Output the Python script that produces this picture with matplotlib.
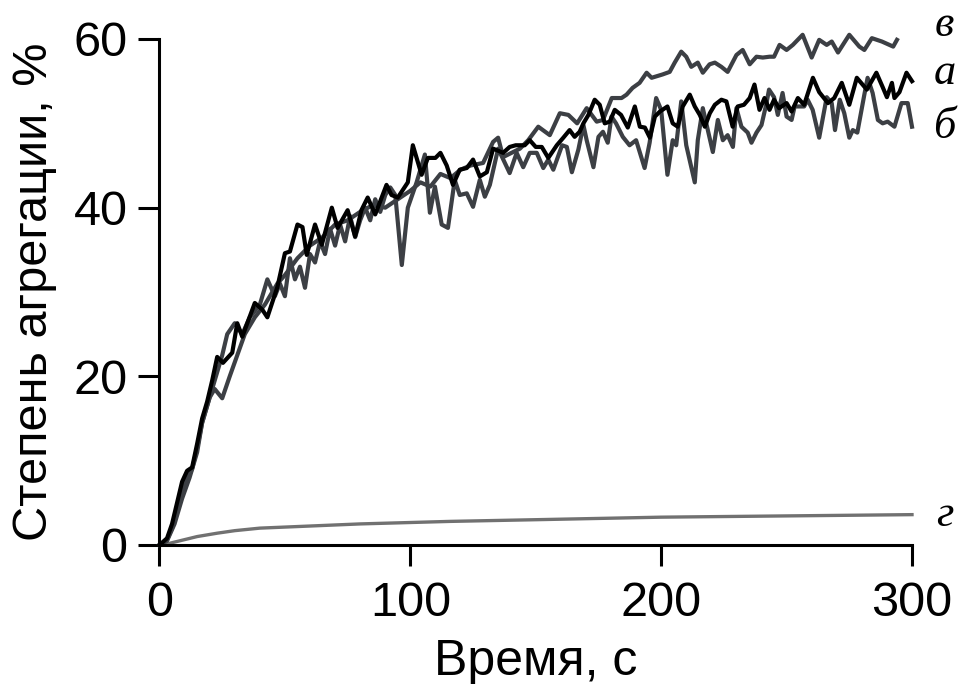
import matplotlib
matplotlib.use("Agg")
import matplotlib.pyplot as plt

# ---- data ----
t_a = [0, 3, 5, 7, 9, 11, 13, 15, 17, 19, 21, 23, 25.3, 29, 31, 33, 38, 41, 43, 47, 50, 52, 55, 57, 58.7,
       62, 64.7, 68.7, 71, 75, 78, 80.5, 83, 86, 90.5, 92.5, 95, 99, 101, 104.5, 107, 110, 112, 114.5, 117,
       119.7, 122.5, 125, 127.7, 130.5, 133, 137, 139.6, 142, 145.6, 147.6, 150, 152.4, 155, 158.4, 161,
       163.5, 165.5, 167.5, 169, 171, 173.5, 175.5, 177.5, 179.5, 181.5, 184, 186.7, 189.5, 191.5, 193.5,
       195.5, 197.5, 199.5, 202.5, 204.6, 206.6, 208.6, 211.4, 213.4, 215.4, 217.4, 219.4, 221.4, 224, 226,
       228.5, 230.5, 233, 235.3, 237.2, 239.2, 241.2, 243.2, 245, 247, 250, 252, 254.5, 257, 260.5, 263,
       266.5, 269, 272, 275, 278, 282, 285.8, 288.3, 290, 292, 293, 295, 297.8, 300]
a = [0, 0.8, 2.5, 5, 7.5, 8.8, 9.2, 12, 15, 17, 19.5, 22.3, 21.6, 22.8, 26.3, 24.7, 28.7, 27.9, 27, 30.6,
     34.6, 34.8, 38, 37.7, 34.4, 38, 35.6, 40, 37.6, 39.7, 36.6, 39.7, 41.2, 39.2, 42.7, 41.5, 41.2, 43,
     47.4, 43.9, 45.9, 45.9, 46.5, 45, 42.7, 44.5, 44.7, 45.7, 43.7, 44.2, 47, 46.5, 47.2, 47.4, 47.4, 48,
     47.2, 47.2, 45.9, 47.4, 48.3, 49.2, 48.4, 49, 50, 51, 52.8, 52.2, 50, 50.2, 51.6, 51, 49.5, 52, 49.6,
     49.5, 48.3, 50.8, 51.4, 52, 50, 49.6, 52, 53.4, 52, 51, 49.6, 51.2, 52.2, 52.8, 52.6, 49.6, 52, 52.2,
     53, 54.6, 51.6, 53, 51.6, 52.8, 51.8, 52.4, 51.4, 53, 52.2, 55.4, 53.7, 52.4, 53, 54.8, 52.2, 55.4,
     54, 56, 54.3, 53.1, 54.8, 53, 53.7, 56, 55]

t_b = [0, 3, 5, 7, 9, 11, 13, 15, 17, 19, 21, 23, 25, 27, 30, 33, 36, 40, 43, 46, 48, 50, 52, 54, 56, 58,
       60, 62, 64, 66, 68, 70, 72, 74, 76, 78, 80, 82, 84, 86, 88, 90, 92, 94, 96.6, 99, 102.5, 105.8,
       107.8, 109.8, 112.5, 115, 117.7, 119.7, 122.5, 125, 127.7, 129.7, 131.7, 135, 139.6, 142.4, 145,
       147.6, 150.4, 153, 155, 157, 160.5, 162.4, 164.4, 167, 169, 170.3, 173, 175, 176.8, 178.7, 180.2,
       182, 184.7, 187.4, 190, 193.4, 195.4, 198, 200, 202.5, 204.6, 206, 208, 210, 212, 213.4, 214.6,
       216.6, 218.6, 220.6, 222.6, 224.6, 226.5, 228.6, 230, 232, 234.5, 236, 238, 240, 242, 243, 245,
       246.5, 248.4, 250, 252, 253.2, 257, 258.4, 260.4, 262, 263, 266, 268, 269.3, 271.2, 273, 275, 276.4,
       278.2, 281, 282.3, 284.3, 286.4, 288.3, 290.3, 293, 295.8, 298.3, 300]
b = [0, 0.6, 2, 4.2, 6.5, 8, 9, 11.5, 14.5, 16.5, 18.5, 20.5, 22.5, 25, 26.3, 25, 27, 28.5, 31.5, 29.5,
     31, 29.5, 34, 31.5, 33, 30.5, 34.5, 33.5, 36, 34.5, 37.5, 35.5, 38, 36, 39, 36.5, 38.5, 40, 38.5, 41,
     39.5, 41.5, 42.4, 41.5, 33.2, 40, 43, 46.3, 39.4, 42.5, 38, 37.6, 43.3, 41.5, 41.7, 40.1, 43.3, 41.3,
     42.7, 47, 44.1, 46.5, 44.8, 46.5, 46.5, 44.7, 45.7, 44.5, 47.4, 47.2, 44.2, 46.9, 49.8, 48, 44.8,
     48.4, 49, 47.7, 50.8, 50, 48.4, 47.4, 48, 44.7, 47.7, 53, 51.6, 43.9, 48, 47.4, 52.6, 47.4, 44.8, 43,
     48, 51.8, 49.2, 46.6, 50.4, 48, 48.6, 47.2, 51.8, 49.6, 48.9, 47.7, 48.9, 49.8, 52.4, 54, 53.1, 51,
     53.6, 50.8, 50.4, 52, 52, 52.8, 51.6, 49.6, 48.3, 53.1, 52.4, 49.2, 52.8, 51.2, 48.3, 49.2, 48.9,
     53.4, 55.4, 53.6, 50.4, 50, 50.2, 49.6, 52.4, 52.4, 49.6]

t_v = [0, 3, 6, 9, 12, 15, 17, 20, 22, 25, 28, 31, 34, 38, 42, 47, 50, 55, 60, 65, 70, 75, 80, 85, 90, 95,
       100, 104, 108, 112, 116, 120, 124, 129, 133, 135, 137, 143.7, 147, 151, 155.6, 159.6, 163, 166.5,
       170.3, 174.3, 176.8, 180.3, 184.2, 186.2, 188.6, 191.4, 194.2, 196.2, 200.6, 203.4, 205.4, 208, 210,
       212, 214.6, 216.6, 219.3, 221.4, 224, 226.5, 230, 232.5, 235.3, 238, 240.5, 243.2, 245, 247.2, 250,
       252.5, 256.4, 260, 263, 266, 268, 270.5, 275, 279, 281, 284, 288, 292.5, 294]
v = [0, 0.5, 2.5, 5.5, 8, 11, 14.5, 17.5, 18.5, 17.4, 20, 22.5, 25, 27, 28.5, 31, 32, 34, 35.5, 36.5, 38,
     38.5, 39.5, 40.3, 40, 41, 42, 43, 42.5, 44, 43.5, 44.5, 45, 45.3, 47.8, 48.3, 46, 47, 48, 49.6, 48.6,
     51.2, 51, 50, 51.8, 50.2, 50.4, 53, 53, 53.4, 54.2, 54.8, 56, 55.4, 55.8, 56.1, 57.2, 58.5, 57.9, 56.7,
     57.2, 56, 57, 57.2, 56.7, 56.1, 58.1, 58.7, 57, 57.9, 57.8, 57.9, 57.9, 59.3, 58.7, 59.3, 60.5, 57.8,
     59.9, 59.3, 59.7, 58.4, 60.5, 59.1, 58.7, 60.1, 59.7, 59.1, 59.9]

t_g = [0, 4, 9.5, 15, 23, 30, 40, 56, 80, 116, 150, 200, 250, 300]
g = [0, 0.2, 0.6, 1.0, 1.4, 1.7, 2.0, 2.2, 2.5, 2.8, 3.0, 3.3, 3.45, 3.6]

series_labels = ["в", "а", "б", "г"]
label_y = [61.7, 56.0, 49.6, 3.6]

xticks = [0, 100, 200, 300]
yticks = [0, 20, 40, 60]

# ---- figure ----
plt.rcParams['font.family'] = ['Liberation Sans', 'DejaVu Sans']
fig = plt.figure(figsize=(9.62, 6.84), dpi=100)
ax = fig.add_axes([159.5 / 962, 1 - 545 / 684, (912 - 159.5) / 962, (545 - 39) / 684])

dark = '#3c3f44'
ax.plot(t_g, g, color='#717171', lw=2.4, clip_on=False, solid_joinstyle='round')
ax.plot(t_v, v, color=dark, lw=3.0, clip_on=False, solid_joinstyle='round')
ax.plot(t_b, b, color=dark, lw=3.0, clip_on=False, solid_joinstyle='round')
ax.plot(t_a, a, color='black', lw=3.0, clip_on=False, solid_joinstyle='round')

ax.set_xlim(0, 300)
ax.set_ylim(0, 60)
ax.set_xticks(xticks)
ax.set_yticks(yticks)
for s in ['top', 'right']:
    ax.spines[s].set_visible(False)
for s in ['left', 'bottom']:
    ax.spines[s].set_linewidth(2.2)
ax.tick_params(direction='out', length=15, width=2.2, labelsize=35, pad=8)
ax.tick_params(axis='x', pad=11)

ax.set_xlabel('Время, с', fontsize=36, labelpad=9)
ax.set_ylabel('Степень агрегации, %', fontsize=35, labelpad=12)

for lab, yy in zip(series_labels, label_y):
    ax.text(313, yy, lab, fontsize=32, style='italic',
            family=['Liberation Serif', 'DejaVu Serif'],
            ha='center', va='center', clip_on=False)

fig.savefig('out.png', dpi=100)
